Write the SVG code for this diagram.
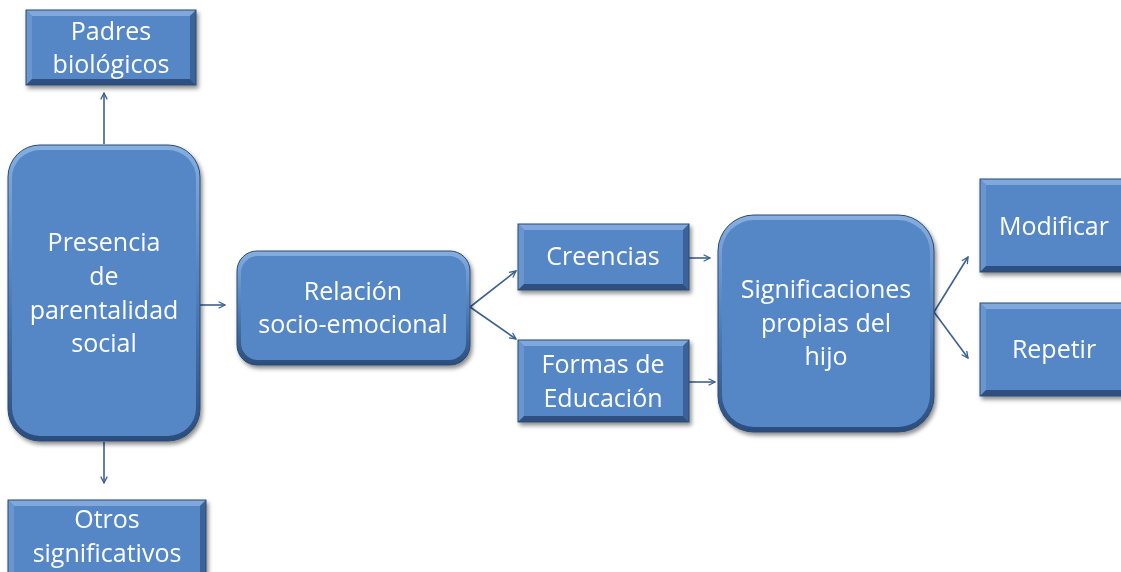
<svg xmlns="http://www.w3.org/2000/svg" width="1121" height="572" viewBox="0 0 1121 572">
<defs>
<style>
.face{fill:#5587c7}
.lt{fill:#80a8dc}
.ll{fill:#6b96d0}
.dr{fill:#3b6399}
.db{fill:#2d5080}
.edge{fill:none;stroke:#2a4a72;stroke-width:1}
.txt{font-family:"Open Sans","Noto Sans",sans-serif;font-size:25px;fill:#ffffff;text-anchor:middle}
.con{stroke:#3c6190;stroke-width:1.6;fill:none}
</style>
<filter id="sh" x="-10%" y="-10%" width="130%" height="130%">
<feDropShadow dx="2" dy="3" stdDeviation="2" flood-color="#000" flood-opacity="0.45"/>
</filter>
<linearGradient id="rg" x1="0" y1="0" x2="0" y2="1">
<stop offset="0" stop-color="#86aee0"/>
<stop offset="0.5" stop-color="#4f7fbd"/>
<stop offset="1" stop-color="#2b4d7c"/>
</linearGradient>
<marker id="ah" viewBox="0 0 10 10" refX="9" refY="5" markerWidth="8" markerHeight="8" orient="auto" markerUnits="userSpaceOnUse">
<path d="M1,1 L9,5 L1,9" fill="none" stroke="#3c6190" stroke-width="1.6"/>
</marker>
</defs>

<g id="connectors">
<line class="con" x1="104" y1="144" x2="104" y2="93" marker-end="url(#ah)"/>
<line class="con" x1="104" y1="442" x2="104" y2="483" marker-end="url(#ah)"/>
<line class="con" x1="200" y1="305" x2="225" y2="305" marker-end="url(#ah)"/>
<line class="con" x1="470" y1="307" x2="516" y2="271" marker-end="url(#ah)"/>
<line class="con" x1="470" y1="307" x2="516" y2="339" marker-end="url(#ah)"/>
<line class="con" x1="689" y1="258" x2="710" y2="258" marker-end="url(#ah)"/>
<line class="con" x1="689" y1="382" x2="715" y2="382" marker-end="url(#ah)"/>
<line class="con" x1="934" y1="312" x2="968" y2="257" marker-end="url(#ah)"/>
<line class="con" x1="934" y1="312" x2="968" y2="358" marker-end="url(#ah)"/>
</g>

<g id="padres" filter="url(#sh)">
<rect class="face" x="26" y="10" width="170" height="75"/>
<polygon class="lt" points="26,10 196,10 190,16 32,16"/>
<polygon class="ll" points="26,10 32,16 32,79 26,85"/>
<polygon class="dr" points="196,10 196,85 190,79 190,16"/>
<polygon class="db" points="26,85 196,85 190,79 32,79"/>
<rect class="edge" x="26" y="10" width="170" height="75"/>
<text class="txt" x="111" y="40">Padres</text>
<text class="txt" x="111" y="73">biológicos</text>
</g>

<g id="presencia" filter="url(#sh)">
<rect x="8" y="145" width="192" height="296" rx="32" fill="url(#rg)" stroke="#2a4a72" stroke-width="1"/>
<rect class="face" x="12" y="150" width="184" height="286" rx="28"/>
<text class="txt" x="104" y="251">Presencia</text>
<text class="txt" x="104" y="285">de</text>
<text class="txt" x="104" y="319">parentalidad</text>
<text class="txt" x="104" y="352">social</text>
</g>

<g id="otros" filter="url(#sh)">
<rect class="face" x="8" y="500" width="198" height="80"/>
<polygon class="lt" points="8,500 206,500 200,506 14,506"/>
<polygon class="ll" points="8,500 14,506 14,580 8,580"/>
<polygon class="dr" points="206,500 206,580 200,580 200,506"/>
<rect class="edge" x="8" y="500" width="198" height="80"/>
<text class="txt" x="107" y="528">Otros</text>
<text class="txt" x="107" y="562">significativos</text>
</g>

<g id="relacion" filter="url(#sh)">
<rect x="237" y="251" width="233" height="114" rx="20" fill="url(#rg)" stroke="#2a4a72" stroke-width="1"/>
<rect class="face" x="241" y="256" width="225" height="104" rx="17"/>
<text class="txt" x="353" y="300">Relación</text>
<text class="txt" x="353" y="333">socio-emocional</text>
</g>

<g id="creencias" filter="url(#sh)">
<rect class="face" x="518" y="224" width="171" height="66"/>
<polygon class="lt" points="518,224 689,224 683,230 524,230"/>
<polygon class="ll" points="518,224 524,230 524,284 518,290"/>
<polygon class="dr" points="689,224 689,290 683,284 683,230"/>
<polygon class="db" points="518,290 689,290 683,284 524,284"/>
<rect class="edge" x="518" y="224" width="171" height="66"/>
<text class="txt" x="603" y="265">Creencias</text>
</g>

<g id="formas" filter="url(#sh)">
<rect class="face" x="518" y="340" width="171" height="82"/>
<polygon class="lt" points="518,340 689,340 683,346 524,346"/>
<polygon class="ll" points="518,340 524,346 524,416 518,422"/>
<polygon class="dr" points="689,340 689,422 683,416 683,346"/>
<polygon class="db" points="518,422 689,422 683,416 524,416"/>
<rect class="edge" x="518" y="340" width="171" height="82"/>
<text class="txt" x="603" y="373">Formas de</text>
<text class="txt" x="603" y="407">Educación</text>
</g>

<g id="significaciones" filter="url(#sh)">
<rect x="718" y="215" width="216" height="217" rx="36" fill="url(#rg)" stroke="#2a4a72" stroke-width="1"/>
<rect class="face" x="722" y="220" width="208" height="207" rx="32"/>
<text class="txt" x="826" y="298">Significaciones</text>
<text class="txt" x="826" y="332">propias del</text>
<text class="txt" x="826" y="365">hijo</text>
</g>

<g id="modificar" filter="url(#sh)">
<rect class="face" x="980" y="179" width="160" height="93"/>
<polygon class="lt" points="980,179 1140,179 1134,185 986,185"/>
<polygon class="ll" points="980,179 986,185 986,266 980,272"/>
<polygon class="db" points="980,272 1140,272 1134,266 986,266"/>
<rect class="edge" x="980" y="179" width="160" height="93"/>
<text class="txt" x="1054" y="235">Modificar</text>
</g>

<g id="repetir" filter="url(#sh)">
<rect class="face" x="980" y="303" width="160" height="93"/>
<polygon class="lt" points="980,303 1140,303 1134,309 986,309"/>
<polygon class="ll" points="980,303 986,309 986,390 980,396"/>
<polygon class="db" points="980,396 1140,396 1134,390 986,390"/>
<rect class="edge" x="980" y="303" width="160" height="93"/>
<text class="txt" x="1054" y="358">Repetir</text>
</g>
</svg>
